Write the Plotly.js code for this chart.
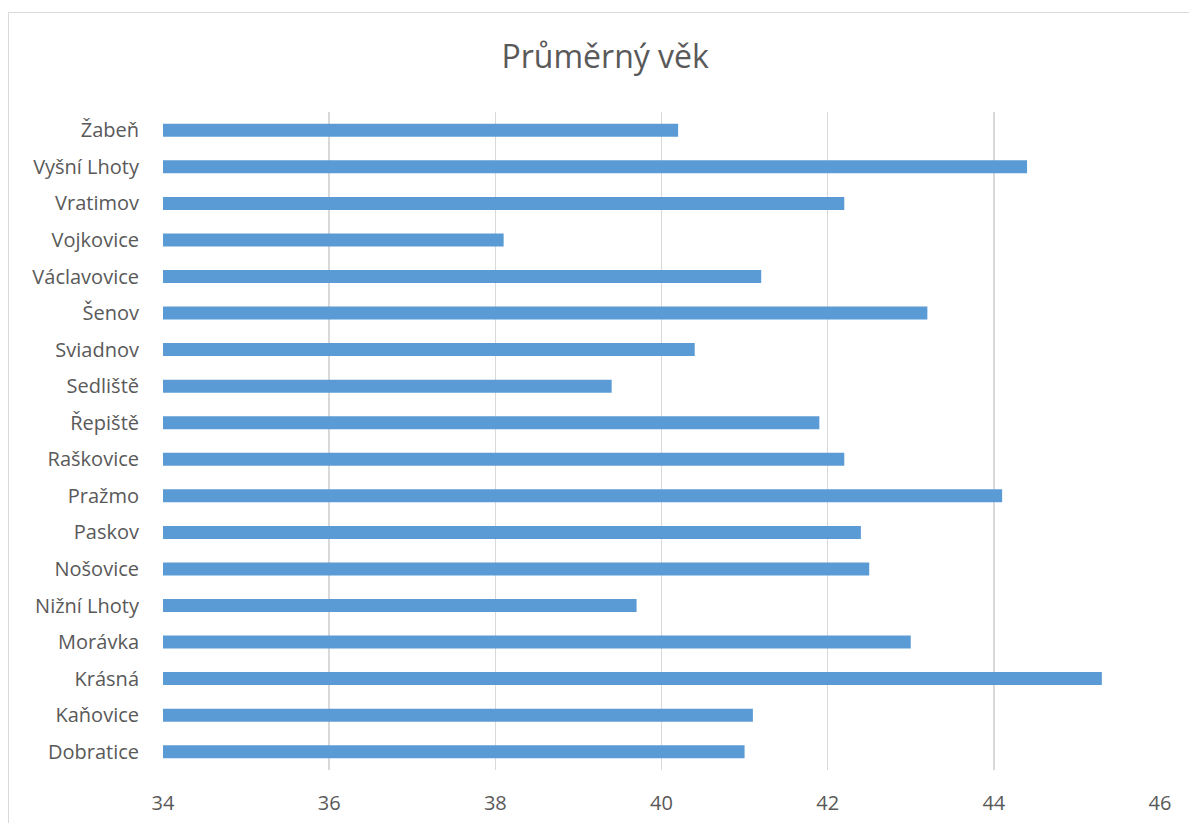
<!DOCTYPE html>
<html>
<head>
<meta charset="utf-8">
<script src="https://cdn.plot.ly/plotly-3.0.1.min.js"></script>
<style>
  html, body { margin: 0; padding: 0; background: #ffffff; overflow: hidden; }
  #frame { position: absolute; left: 8px; top: 12px; width: 1200px; height: 830px; border-left: 1px solid #d9d9d9; border-top: 1px solid #d9d9d9; box-sizing: border-box; pointer-events: none; z-index: 2; }
  #chart { position: absolute; left: 0; top: 0; width: 1189px; height: 823px; }
</style>
</head>
<body>
<div id="chart"></div>
<div id="frame"></div>
<script>
const chartTitle = "Průměrný věk";
const categories = ["Dobratice", "Kaňovice", "Krásná", "Morávka", "Nižní Lhoty", "Nošovice", "Paskov", "Pražmo", "Raškovice", "Řepiště", "Sedliště", "Sviadnov", "Šenov", "Václavovice", "Vojkovice", "Vratimov", "Vyšní Lhoty", "Žabeň"];
const averageAge = [41.0, 41.1, 45.3, 43.0, 39.7, 42.5, 42.4, 44.1, 42.2, 41.9, 39.4, 40.4, 43.2, 41.2, 38.1, 42.2, 44.4, 40.2];
const xTicks = [34, 36, 38, 40, 42, 44, 46];

const fontFamily = "'Open Sans', sans-serif";
const textColor = "#595959";

Plotly.newPlot("chart", [{
  type: "bar",
  orientation: "h",
  y: categories,
  x: averageAge,
  base: 0,
  marker: { color: "#5B9BD5" },
  hoverinfo: "x+y"
}], {
  width: 1189,
  height: 823,
  margin: { l: 163, r: 29, t: 112, b: 53, pad: 0 },
  paper_bgcolor: "#ffffff",
  plot_bgcolor: "#ffffff",
  bargap: 0.645,
  showlegend: false,
  title: {
    text: chartTitle,
    x: 0.509,
    xanchor: "center",
    y: 0.931,
    yanchor: "middle",
    font: { family: fontFamily, size: 32, color: textColor }
  },
  xaxis: {
    range: [34, 46],
    tickvals: xTicks,
    ticktext: xTicks.map(String),
    showgrid: true,
    gridcolor: "#d9d9d9",
    gridwidth: 1.5,
    zeroline: false,
    showline: false,
    ticks: "outside",
    ticklen: 15,
    tickcolor: "rgba(0,0,0,0)",
    tickfont: { family: fontFamily, size: 20, color: textColor },
    fixedrange: true
  },
  yaxis: {
    type: "category",
    categoryorder: "array",
    categoryarray: categories,
    showgrid: false,
    zeroline: false,
    showline: false,
    ticks: "outside",
    ticklen: 19,
    tickcolor: "rgba(0,0,0,0)",
    tickfont: { family: fontFamily, size: 20, color: textColor },
    fixedrange: true
  }
}, { displayModeBar: false, staticPlot: true });
</script>
</body>
</html>
